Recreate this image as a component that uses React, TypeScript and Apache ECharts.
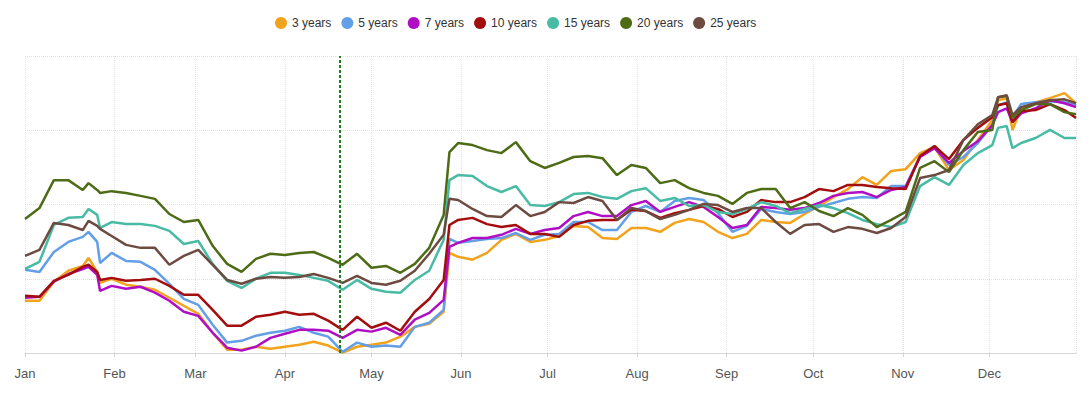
import React, { useEffect, useRef } from 'react';
import * as echarts from 'echarts';

const dates = [
  '2021-01-01', '2021-01-06', '2021-01-11', '2021-01-16', '2021-01-21', '2021-01-23', '2021-01-26', '2021-01-27', '2021-01-31',
  '2021-02-05', '2021-02-10', '2021-02-15', '2021-02-20', '2021-02-25',
  '2021-03-02', '2021-03-07', '2021-03-12', '2021-03-17', '2021-03-22', '2021-03-27',
  '2021-04-01', '2021-04-06', '2021-04-11', '2021-04-16', '2021-04-21', '2021-04-26',
  '2021-05-01', '2021-05-06', '2021-05-11', '2021-05-16', '2021-05-21', '2021-05-26', '2021-05-28', '2021-05-31',
  '2021-06-05', '2021-06-10', '2021-06-15', '2021-06-20', '2021-06-25', '2021-06-30',
  '2021-07-05', '2021-07-10', '2021-07-15', '2021-07-20', '2021-07-25', '2021-07-30',
  '2021-08-04', '2021-08-09', '2021-08-14', '2021-08-19', '2021-08-24', '2021-08-29',
  '2021-09-03', '2021-09-08', '2021-09-13', '2021-09-18', '2021-09-23', '2021-09-28',
  '2021-10-03', '2021-10-08', '2021-10-13', '2021-10-18', '2021-10-23', '2021-10-28',
  '2021-11-02', '2021-11-07', '2021-11-12', '2021-11-17', '2021-11-22', '2021-11-27',
  '2021-12-02', '2021-12-04', '2021-12-07', '2021-12-09', '2021-12-12', '2021-12-17', '2021-12-22', '2021-12-27', '2021-12-31',
];

const years3 = [
  17.6, 17.6, 24.0, 27.7, 29.3, 32.0, 27.3, 23.6, 25.0,
  23.0, 22.3, 21.3, 18.6, 15.9,
  13.2, 6.8, 1.1, 1.1, 2.1, 1.4,
  2.1, 2.8, 3.8, 2.5, 0.1, 2.1,
  2.8, 3.5, 5.5, 8.8, 9.8, 13.9, 33.7, 32.4,
  31.4, 33.7, 38.1, 40.1, 37.4, 38.1,
  39.4, 42.8, 42.4, 38.7, 38.4, 42.1,
  42.1, 40.8, 43.8, 45.1, 44.1, 40.8,
  38.7, 40.1, 44.8, 44.1, 43.8, 46.8,
  49.5, 52.5, 55.2, 59.2, 56.6, 61.3,
  61.9, 67.3, 69.3, 61.6, 65.0, 71.7,
  78.4, 85.1, 85.8, 75.1, 82.4, 84.4, 85.8, 87.5, 84.1,
];

const years5 = [
  28.0, 27.3, 34.0, 37.4, 39.1, 40.8, 37.4, 30.3, 33.7,
  31.0, 30.7, 28.0, 23.3, 18.2,
  16.2, 9.5, 3.5, 4.1, 5.8, 6.8,
  7.5, 8.8, 6.8, 5.5, 0.4, 3.5,
  2.1, 2.5, 2.1, 8.8, 10.2, 14.5, 38.4, 37.1,
  37.7, 38.4, 38.7, 40.4, 38.1, 39.8,
  40.1, 44.1, 44.1, 41.4, 41.4, 47.5,
  49.5, 47.5, 51.2, 52.2, 51.5, 47.1,
  40.8, 42.8, 48.5, 47.5, 46.8, 47.5,
  49.2, 50.5, 51.9, 52.5, 52.2, 56.2,
  56.2, 66.3, 69.3, 63.3, 66.0, 70.7,
  76.7, 83.4, 84.4, 79.4, 83.8, 84.4, 84.8, 84.4, 83.4,
];

const years7 = [
  18.6, 18.9, 24.0, 26.6, 28.3, 29.0, 26.3, 20.9, 22.6,
  21.6, 22.3, 20.3, 17.6, 13.9,
  12.5, 6.8, 1.8, 0.8, 2.1, 5.1,
  6.5, 7.8, 7.8, 7.5, 5.1, 7.8,
  7.2, 8.5, 6.1, 11.2, 13.5, 17.9, 35.7, 37.1,
  38.7, 38.7, 39.8, 41.8, 40.1, 41.4,
  42.1, 46.1, 47.5, 46.1, 46.1, 49.8,
  51.2, 47.5, 49.2, 50.8, 49.2, 45.8,
  42.1, 43.1, 49.2, 48.8, 48.2, 48.8,
  50.5, 52.9, 53.9, 54.2, 52.5, 54.9,
  55.9, 66.0, 69.0, 64.0, 68.0, 71.3,
  76.7, 81.1, 82.4, 77.7, 80.7, 82.4, 85.1, 84.1, 82.8,
];

const years10 = [
  19.3, 18.9, 24.3, 26.3, 29.0, 29.7, 27.3, 24.6, 25.3,
  24.3, 24.6, 25.0, 22.6, 19.6,
  19.6, 14.5, 9.2, 9.2, 12.2, 12.9,
  13.9, 12.9, 13.2, 10.9, 7.8, 12.2,
  8.5, 10.2, 7.5, 13.9, 18.2, 24.6, 43.1, 44.8,
  45.5, 43.4, 42.4, 43.1, 40.1, 40.1,
  39.1, 43.1, 44.5, 44.8, 44.8, 48.2,
  47.8, 45.5, 47.1, 48.2, 49.5, 48.5,
  45.8, 47.5, 51.5, 50.8, 50.8, 52.5,
  55.2, 54.5, 56.6, 56.6, 55.9, 55.5,
  55.2, 66.3, 69.7, 65.3, 71.7, 75.8,
  79.4, 83.4, 84.1, 77.7, 81.4, 81.8, 83.8, 81.8, 79.1,
];

const years15 = [
  28.3, 30.7, 43.1, 45.5, 45.8, 48.5, 46.5, 42.1, 44.1,
  43.4, 43.4, 42.8, 41.1, 36.7,
  37.7, 30.0, 24.3, 21.9, 25.0, 27.0,
  27.0, 26.3, 25.3, 24.3, 21.3, 24.6,
  21.6, 20.6, 20.3, 24.6, 27.7, 38.1, 58.2, 59.9,
  59.6, 56.2, 54.2, 56.2, 49.8, 49.5,
  50.8, 53.5, 53.9, 52.5, 51.9, 54.5,
  55.5, 51.2, 52.2, 49.5, 49.8, 47.5,
  46.8, 48.5, 50.8, 49.5, 47.1, 48.5,
  49.8, 48.8, 47.1, 44.8, 43.4, 42.4,
  44.1, 56.2, 59.2, 56.6, 63.3, 67.3,
  70.0, 75.8, 76.4, 69.0, 70.7, 72.4, 75.1, 72.4, 72.4,
];

const years20 = [
  45.1, 48.8, 58.2, 58.2, 54.9, 57.2, 54.9, 53.9, 54.5,
  53.9, 52.9, 51.9, 46.8, 44.1,
  44.8, 36.1, 30.0, 27.3, 31.7, 33.4,
  33.0, 33.7, 34.0, 32.0, 29.7, 33.4,
  28.7, 29.3, 27.0, 30.0, 35.4, 46.5, 67.6, 70.7,
  70.0, 68.3, 67.3, 71.0, 64.6, 62.3,
  64.0, 66.0, 66.3, 65.6, 59.9, 63.3,
  62.3, 57.2, 58.2, 55.5, 53.9, 52.9,
  50.2, 53.9, 55.2, 55.2, 48.8, 50.8,
  47.8, 46.1, 48.8, 46.5, 42.4, 44.8,
  47.5, 62.3, 64.6, 60.9, 68.3, 74.4,
  75.1, 86.1, 86.5, 79.1, 81.8, 83.8, 83.8, 81.1, 80.4,
];

const years25 = [
  32.7, 34.7, 43.8, 43.1, 41.4, 44.5, 42.8, 41.8, 39.4,
  36.4, 35.4, 35.4, 29.7, 32.7,
  34.7, 29.7, 24.6, 23.3, 25.0, 25.6,
  25.3, 25.6, 26.6, 25.3, 23.6, 26.0,
  23.6, 23.0, 24.3, 27.7, 33.4, 39.8, 51.9, 51.5,
  48.5, 46.1, 45.8, 49.8, 46.1, 47.5,
  50.8, 50.5, 52.5, 51.2, 44.8, 48.8,
  47.8, 45.1, 46.5, 48.2, 50.2, 49.8,
  47.5, 48.8, 48.8, 44.1, 40.1, 43.1,
  43.4, 40.8, 42.4, 41.8, 40.4, 42.1,
  45.8, 58.9, 59.9, 61.6, 71.7, 77.0,
  80.1, 86.1, 86.8, 80.1, 82.8, 84.1, 85.1, 85.4, 84.1,
];

const seriesNames = ['3 years', '5 years', '7 years', '10 years', '15 years', '20 years', '25 years'];
const seriesValues = [years3, years5, years7, years10, years15, years20, years25];
const seriesColors = ['#F2A31B', '#629FE6', '#B00EC4', '#A30D0D', '#48BBA4', '#4E6B16', '#6D4B41'];
const monthLabels = ['Jan', 'Feb', 'Mar', 'Apr', 'May', 'Jun', 'Jul', 'Aug', 'Sep', 'Oct', 'Nov', 'Dec'];
const markerDate = '2021-04-20';

export default function App() {
  const ref = useRef<HTMLDivElement>(null);

  useEffect(() => {
    if (!ref.current) return;
    const chart = echarts.init(ref.current, null, { renderer: 'svg' });
    const series = seriesNames.map((name, i) => {
      const s: any = {
        name,
        type: 'line',
        data: dates.map((d, j) => [d, seriesValues[i][j]]),
        showSymbol: false,
        symbol: 'none',
        lineStyle: { width: 2.5, color: seriesColors[i] },
        itemStyle: { color: seriesColors[i] },
      };
      if (i === 0) {
        s.markLine = {
          silent: true,
          symbol: ['none', 'none'],
          label: { show: false },
          lineStyle: { color: '#1E7D1E', width: 2, type: [3, 2] },
          data: [{ xAxis: markerDate }],
        };
      }
      return s;
    });

    chart.setOption({
      animation: false,
      backgroundColor: '#ffffff',
      textStyle: { fontFamily: '"Liberation Sans", Arial, sans-serif' },
      legend: {
        left: 270,
        top: 12,
        itemWidth: 12,
        itemHeight: 12,
        itemGap: 10,
        icon: 'circle',
        textStyle: { fontSize: 12, color: '#333' },
        data: seriesNames,
      },
      grid: { left: 25, right: 14, top: 56, bottom: 41, containLabel: false },
      xAxis: {
        type: 'time',
        min: '2021-01-01',
        max: '2021-12-31',
        splitNumber: 12,
        axisLine: { show: true, lineStyle: { color: '#d6d6d6', width: 1 } },
        axisTick: { show: true, length: 4, lineStyle: { color: '#d6d6d6' } },
        axisLabel: {
          fontSize: 13,
          color: '#555',
          margin: 14,
          formatter: (v: number) => monthLabels[new Date(v).getMonth()],
        },
        splitLine: { show: true, lineStyle: { color: '#e2e2e2', type: 'dotted', width: 1 } },
      },
      yAxis: {
        type: 'value',
        min: 0,
        max: 100,
        interval: 25,
        axisLabel: { show: false },
        axisLine: { show: false },
        axisTick: { show: false },
        splitLine: { show: true, lineStyle: { color: '#e2e2e2', type: 'dotted', width: 1 } },
      },
      series,
    });

    return () => chart.dispose();
  }, []);

  return (
    <div
      ref={ref}
      style={{ position: 'absolute', left: 0, top: 0, width: 1090, height: 394 }}
    />
  );
}
